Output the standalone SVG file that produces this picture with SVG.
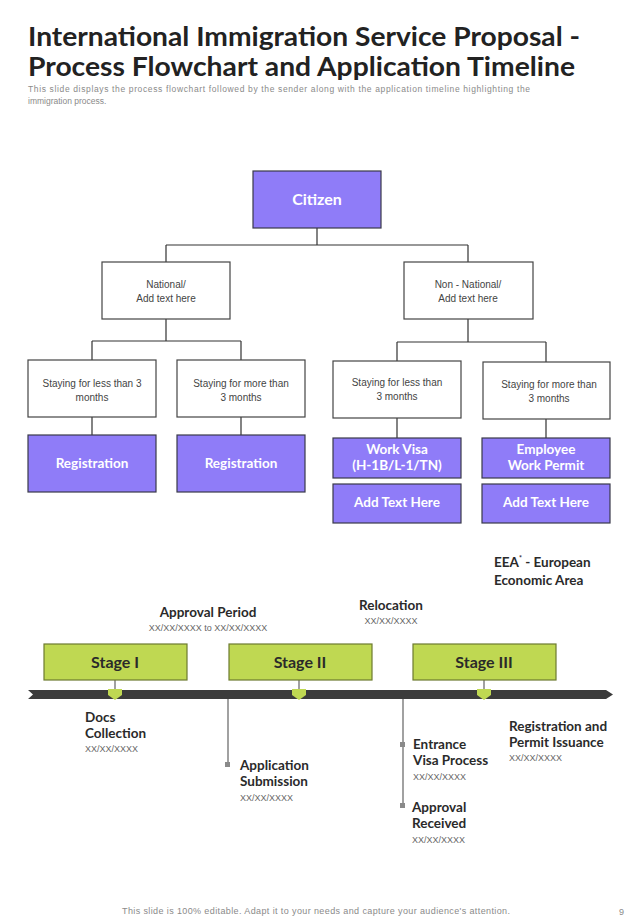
<svg xmlns="http://www.w3.org/2000/svg" width="640" height="924" viewBox="0 0 640 924">
<style>
.title{font-family:Lato,"Open Sans",sans-serif;font-weight:700;font-size:26.5px;fill:#222}
.sub{font-family:"Liberation Sans Narrow","Liberation Sans",sans-serif;font-size:8.5px;fill:#8a8a8a}
.wbox{fill:#fff;stroke:#444;stroke-width:1.2}
.pbox{fill:#8f7cf8;stroke:#3a3a4a;stroke-width:1.2}
.gbox{fill:#bfd852;stroke:#6d7b30;stroke-width:1.2}
.wt{font-family:"Liberation Sans",Arial,sans-serif;font-size:10px;fill:#444;text-anchor:middle}
.pt{font-family:Lato,"Open Sans",sans-serif;font-weight:700;font-size:13.5px;fill:#fff;text-anchor:middle}
.st{font-family:Lato,"Open Sans",sans-serif;font-weight:700;font-size:16px;fill:#2a2a2a;text-anchor:middle}
.lb{font-family:Lato,"Open Sans",sans-serif;font-weight:700;font-size:13.5px;fill:#2a2a2a}
.dt{font-family:"Liberation Sans Narrow","Liberation Sans",sans-serif;font-size:9px;fill:#666}
.conn{fill:none;stroke:#333;stroke-width:1.2}
.vl{fill:none;stroke:#8a8a8a;stroke-width:1.6}
.mk{fill:#bfd852}
.sq{fill:#8a8a8a}
</style>

<g id="header">
<text class="title" x="28" y="46" textLength="552" lengthAdjust="spacingAndGlyphs">International Immigration Service Proposal -</text>
<text class="title" x="28" y="76" textLength="547" lengthAdjust="spacingAndGlyphs">Process Flowchart and Application Timeline</text>
<text class="sub" x="28" y="92" textLength="502">This slide displays the process flowchart followed by the sender along with the application timeline highlighting the</text>
<text class="sub" x="28" y="104">immigration process.</text>
</g>

<g id="connectors">
<path class="conn" d="M317 228 V245 M166 245 H468 M166 245 V262 M468 245 V262"/>
<path class="conn" d="M166 319 V341 M92 341 H241 M92 341 V360 M241 341 V360"/>
<path class="conn" d="M468 319 V342 M397 342 H546 M397 342 V361 M546 342 V362"/>
<path class="conn" d="M92 417 V435 M241 417 V435 M397 418 V438 M546 419 V438"/>
</g>

<g id="citizen"><rect class="pbox" x="253" y="171" width="128" height="57"/><text class="pt" x="317" y="205" style="font-size:16px">Citizen</text></g>

<g id="national"><rect class="wbox" x="102" y="262" width="128" height="57"/><text class="wt" x="166" y="288">National/</text><text class="wt" x="166" y="302">Add text here</text></g>
<g id="nonnational"><rect class="wbox" x="404" y="262" width="129" height="57"/><text class="wt" x="468" y="288">Non - National/</text><text class="wt" x="468" y="302">Add text here</text></g>

<g id="n-less"><rect class="wbox" x="28" y="360" width="128" height="57"/><text class="wt" x="92" y="387">Staying for less than 3</text><text class="wt" x="92" y="401">months</text></g>
<g id="n-more"><rect class="wbox" x="177" y="360" width="128" height="57"/><text class="wt" x="241" y="387">Staying for more than</text><text class="wt" x="241" y="401">3 months</text></g>
<g id="nn-less"><rect class="wbox" x="333" y="361" width="128" height="57"/><text class="wt" x="397" y="386">Staying for less than</text><text class="wt" x="397" y="400">3 months</text></g>
<g id="nn-more"><rect class="wbox" x="483" y="362" width="127" height="57"/><text class="wt" x="549" y="388">Staying for more than</text><text class="wt" x="549" y="402">3 months</text></g>

<g id="reg1"><rect class="pbox" x="28" y="435" width="128" height="57"/><text class="pt" x="92" y="468">Registration</text></g>
<g id="reg2"><rect class="pbox" x="177" y="435" width="128" height="57"/><text class="pt" x="241" y="468">Registration</text></g>
<g id="workvisa"><rect class="pbox" x="333" y="438" width="128" height="40"/><text class="pt" x="397" y="454">Work Visa</text><text class="pt" x="397" y="470">(H-1B/L-1/TN)</text></g>
<g id="addtext1"><rect class="pbox" x="333" y="484" width="128" height="39"/><text class="pt" x="397" y="507">Add Text Here</text></g>
<g id="permit"><rect class="pbox" x="482" y="438" width="128" height="40"/><text class="pt" x="546" y="454">Employee</text><text class="pt" x="546" y="470">Work Permit</text></g>
<g id="addtext2"><rect class="pbox" x="482" y="484" width="128" height="39"/><text class="pt" x="546" y="507">Add Text Here</text></g>

<g id="eea"><text class="lb" x="494" y="567">EEA<tspan font-size="7" dy="-6">*</tspan><tspan dy="6"> - European</tspan></text><text class="lb" x="494" y="585">Economic Area</text></g>

<g id="timeline-top">
<text class="lb" x="208" y="617" text-anchor="middle">Approval Period</text>
<text class="dt" x="208" y="631" text-anchor="middle">XX/XX/XXXX to XX/XX/XXXX</text>
<text class="lb" x="391" y="610" text-anchor="middle">Relocation</text>
<text class="dt" x="391" y="624" text-anchor="middle">XX/XX/XXXX</text>
</g>

<g id="timeline-connectors">
<path class="vl" d="M115 680 V690 M299 680 V690 M484 680 V690"/>
<path class="vl" d="M228 699 V765 M403 699 V806"/>
<rect class="sq" x="225" y="762" width="5" height="5"/>
<rect class="sq" x="400" y="742" width="5" height="5"/>
<rect class="sq" x="400" y="803" width="5" height="5"/>
</g>

<g id="bar">
<polygon points="28,690 606,690 613,694.5 606,699 28,699 33,694.5" fill="#3b3b3b"/>
<polygon class="mk" points="108,689 122,689 122,695 115,700 108,695"/>
<polygon class="mk" points="292,689 306,689 306,695 299,700 292,695"/>
<polygon class="mk" points="477,689 491,689 491,695 484,700 477,695"/>
</g>

<g id="stage1"><rect class="gbox" x="44" y="644" width="143" height="36"/><text class="st" x="115" y="668">Stage I</text></g>
<g id="stage2"><rect class="gbox" x="229" y="644" width="143" height="36"/><text class="st" x="300" y="668">Stage II</text></g>
<g id="stage3"><rect class="gbox" x="413" y="644" width="143" height="36"/><text class="st" x="484" y="668">Stage III</text></g>

<g id="docs"><text class="lb" x="85" y="722">Docs</text><text class="lb" x="85" y="738">Collection</text><text class="dt" x="85" y="752">XX/XX/XXXX</text></g>
<g id="application"><text class="lb" x="240" y="770">Application</text><text class="lb" x="240" y="786">Submission</text><text class="dt" x="240" y="801">XX/XX/XXXX</text></g>
<g id="entrance"><text class="lb" x="413" y="749">Entrance</text><text class="lb" x="413" y="765">Visa Process</text><text class="dt" x="413" y="780">XX/XX/XXXX</text></g>
<g id="approval"><text class="lb" x="412" y="812">Approval</text><text class="lb" x="412" y="828">Received</text><text class="dt" x="412" y="843">XX/XX/XXXX</text></g>
<g id="registration"><text class="lb" x="509" y="731">Registration and</text><text class="lb" x="509" y="747">Permit Issuance</text><text class="dt" x="509" y="761">XX/XX/XXXX</text></g>

<g id="footer">
<text class="sub" x="122" y="914" textLength="388" style="font-size:9px">This slide is 100% editable. Adapt it to your needs and capture your audience's attention.</text>
<text class="sub" x="619" y="915" style="font-size:9px">9</text>
</g>
</svg>
